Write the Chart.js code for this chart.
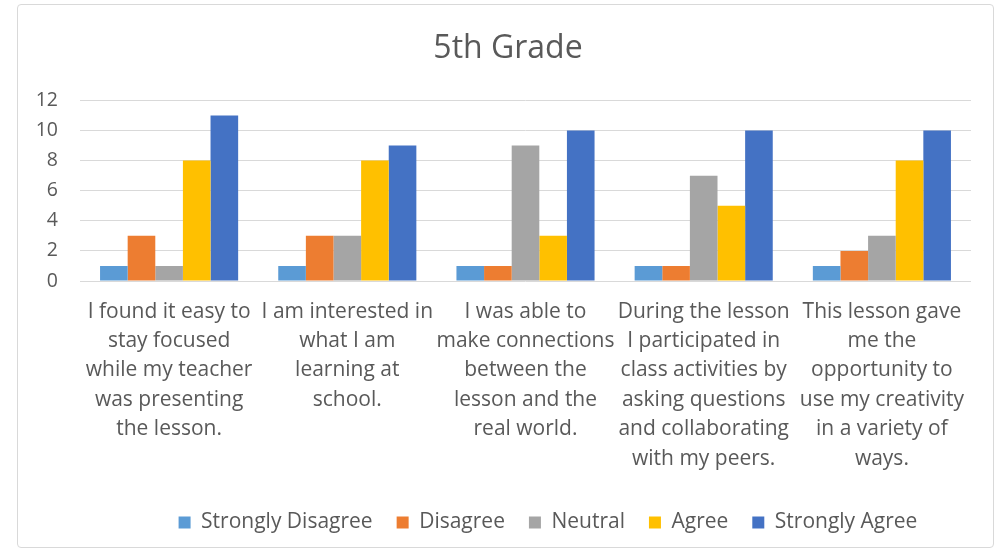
<!DOCTYPE html>
<html>
<head>
<meta charset="utf-8">
<script src="https://cdn.jsdelivr.net/npm/chart.js@4.4.1/dist/chart.umd.min.js"></script>
<style>
  html, body { margin: 0; padding: 0; background: #fff; }
  #wrap {
    position: absolute; left: 17px; top: 4px;
    width: 975px; height: 542px;
    border: 1px solid #d9d9d9; border-radius: 4px;
  }
  canvas { display: block; }
</style>
</head>
<body>
<div id="wrap"><canvas id="chart" width="975" height="542"></canvas></div>
<script>
// Data
const categories = [
    ['I found it easy to', 'stay focused', 'while my teacher', 'was presenting', 'the lesson.'],
    ['I am interested in', 'what I am', 'learning at', 'school.'],
    ['I was able to', 'make connections', 'between the', 'lesson and the', 'real world.'],
    ['During the lesson', 'I participated in', 'class activities by', 'asking questions', 'and collaborating', 'with my peers.'],
    ['This lesson gave', 'me the', 'opportunity to', 'use my creativity', 'in a variety of', 'ways.']
];
const seriesNames = ['Strongly Disagree', 'Disagree', 'Neutral', 'Agree', 'Strongly Agree'];
const stronglyDisagree = [1, 1, 1, 1, 1];
const disagree = [3, 3, 1, 1, 2];
const neutral = [1, 3, 9, 7, 3];
const agree = [8, 8, 3, 5, 8];
const stronglyAgree = [11, 9, 10, 10, 10];
const yTicks = [0, 2, 4, 6, 8, 10, 12];

const COLORS = ['#5b9bd5', '#ed7d31', '#a5a5a5', '#ffc000', '#4472c4'];
const TEXT = '#595959';

Chart.defaults.font.family = "'Open Sans', 'Noto Sans', sans-serif";
Chart.defaults.color = TEXT;

const seriesData = [stronglyDisagree, disagree, neutral, agree, stronglyAgree];

// legend and title sit a bit right of centre in the original
const boxShift = {
    id: 'boxShift',
    afterLayout(chart) {
        const lg = chart.legend;
        if (lg) { lg.left += 45; lg.right += 45; }
        const tt = chart.titleBlock;
        if (tt) { tt.left += 5; tt.right += 5; }
    }
};

new Chart(document.getElementById('chart').getContext('2d'), {
    type: 'bar',
    data: {
        labels: categories,
        datasets: seriesNames.map((name, i) => ({
            label: name,
            data: seriesData[i],
            backgroundColor: COLORS[i],
            borderWidth: 0,
            categoryPercentage: 0.775,
            barPercentage: 1
        }))
    },
    options: {
        responsive: false,
        animation: false,
        layout: { padding: { left: 17, right: 22, top: 0, bottom: 4 } },
        plugins: {
            title: {
                display: true,
                text: '5th Grade',
                color: TEXT,
                font: { size: 32, weight: 'normal' },
                padding: { top: 25, bottom: 32 }
            },
            legend: {
                position: 'bottom',
                labels: {
                    boxWidth: 12,
                    boxHeight: 12,
                    padding: 24,
                    color: TEXT,
                    font: { size: 21 }
                }
            },
            tooltip: { enabled: false }
        },
        scales: {
            x: {
                grid: { display: false },
                border: { display: false },
                ticks: {
                    color: TEXT,
                    font: { size: 21, lineHeight: 1.4 },
                    maxRotation: 0,
                    autoSkip: false,
                    padding: 8
                },
                afterFit: (scale) => { scale.height = 207; }
            },
            y: {
                min: 0,
                max: 12,
                afterBuildTicks: (scale) => { scale.ticks = yTicks.map(v => ({ value: v })); },
                grid: { color: '#d9d9d9', lineWidth: 1, drawTicks: false },
                border: { display: false },
                ticks: {
                    color: TEXT,
                    font: { size: 19.5 },
                    padding: 22
                },
                afterFit: (scale) => { scale.width = 45; }
            }
        }
    },
    plugins: [boxShift]
});
</script>
</body>
</html>
